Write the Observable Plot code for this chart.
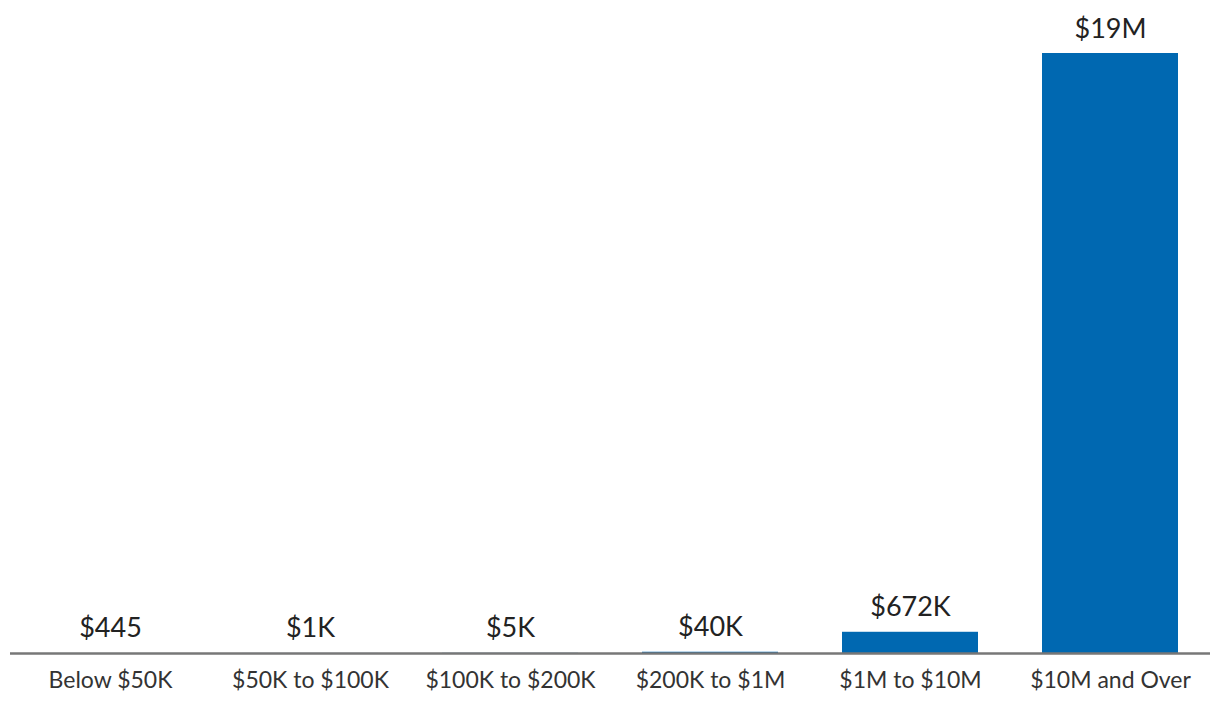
<!DOCTYPE html>
<html>
<head>
<meta charset="utf-8">
<script src="https://cdn.jsdelivr.net/npm/d3@7"></script>
<script src="https://cdn.jsdelivr.net/npm/@observablehq/plot@0.6"></script>
<style>
  html, body { margin: 0; padding: 0; background: #fff; }
  #chart svg { display: block; }
</style>
</head>
<body>
<div id="chart"></div>
<script>
const categories = ["Below $50K", "$50K to $100K", "$100K to $200K", "$200K to $1M", "$1M to $10M", "$10M and Over"];
const values = [445, 1000, 5000, 40000, 672000, 19000000];
const valueLabels = ["$445", "$1K", "$5K", "$40K", "$672K", "$19M"];

const data = categories.map((c, i) => ({category: c, value: values[i], label: valueLabels[i]}));

const chart = Plot.plot({
  width: 1220,
  height: 710,
  marginTop: 53,
  marginBottom: 57,
  marginLeft: 10,
  marginRight: 10,
  style: {fontFamily: "Lato, sans-serif", background: "#fff"},
  x: {domain: categories, paddingInner: 0.32, paddingOuter: 0.16, label: null},
  y: {domain: [0, 19000000], axis: null},
  marks: [
    Plot.barY(data, {x: "category", y: "value", fill: "#0068b1"}),
    Plot.ruleY([0], {stroke: "#777", strokeWidth: 2.4}),
    Plot.text(data, {x: "category", y: "value", text: "label", lineAnchor: "bottom", dy: -16, fontSize: 27, fill: "#222"}),
    Plot.axisX({tickSize: 0, tickPadding: 18, fontSize: 23, color: "#333", label: null})
  ]
});
document.getElementById("chart").appendChild(chart);
</script>
</body>
</html>
